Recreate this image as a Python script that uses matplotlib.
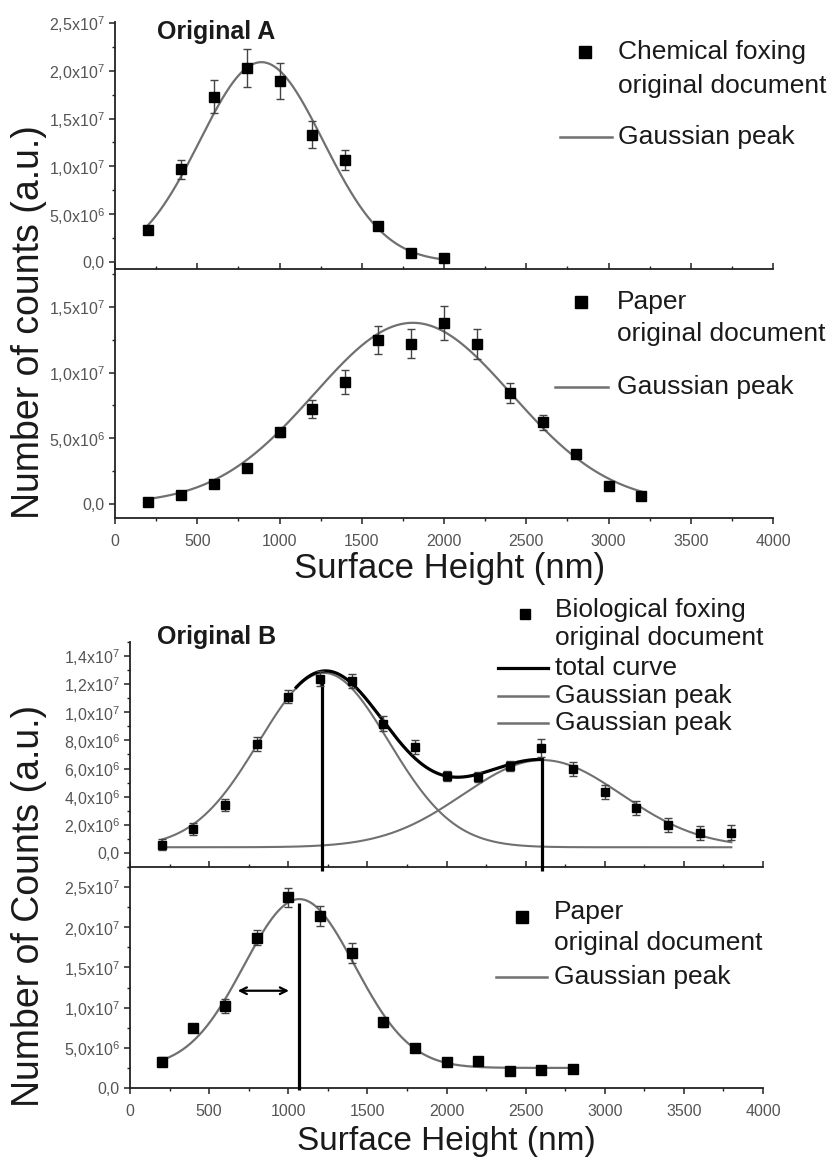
import numpy as np
import matplotlib
matplotlib.use("Agg")
import matplotlib.pyplot as plt
from matplotlib.lines import Line2D
from matplotlib.ticker import MultipleLocator, FuncFormatter

plt.rcParams['font.family'] = ['Liberation Sans', 'DejaVu Sans']

# ---- Original A, chemical foxing ----
height_a1 = [200, 400, 600, 800, 1000, 1200, 1400, 1600, 1800, 2000]
counts_a1 = [3.3e6, 9.7e6, 17.3e6, 20.3e6, 18.9e6, 13.3e6, 10.7e6, 3.8e6, 0.9e6, 0.4e6]
err_a1 = [0.3e6, 1.0e6, 1.75e6, 2.0e6, 1.9e6, 1.4e6, 1.05e6, 0.35e6, 0.15e6, 0.1e6]
fit_a1 = (890, 375, 20.9e6, 0.0)          # centre, width, amplitude, offset

# ---- Original A, paper ----
height_a2 = [200, 400, 600, 800, 1000, 1200, 1400, 1600, 1800, 2000,
             2200, 2400, 2600, 2800, 3000, 3200]
counts_a2 = [0.13e6, 0.69e6, 1.5e6, 2.72e6, 5.46e6, 7.23e6, 9.3e6, 12.5e6,
             12.2e6, 13.76e6, 12.2e6, 8.43e6, 6.22e6, 3.78e6, 1.39e6, 0.61e6]
err_a2 = [0.15e6, 0.2e6, 0.2e6, 0.25e6, 0.35e6, 0.66e6, 0.9e6, 1.08e6,
          1.1e6, 1.3e6, 1.14e6, 0.76e6, 0.57e6, 0.3e6, 0.2e6, 0.15e6]
fit_a2 = (1810, 600, 13.8e6, 0.0)

# ---- Original B, biological foxing ----
height_b1 = [200, 400, 600, 800, 1000, 1200, 1400, 1600, 1800, 2000,
             2200, 2400, 2600, 2800, 3000, 3200, 3400, 3600, 3800]
counts_b1 = [0.57e6, 1.7e6, 3.4e6, 7.75e6, 11.1e6, 12.4e6, 12.25e6, 9.2e6,
             7.55e6, 5.47e6, 5.42e6, 6.2e6, 7.44e6, 5.97e6, 4.36e6, 3.18e6,
             1.99e6, 1.4e6, 1.44e6]
err_b1 = [0.4e6, 0.4e6, 0.45e6, 0.5e6, 0.45e6, 0.5e6, 0.5e6, 0.5e6, 0.5e6,
          0.35e6, 0.35e6, 0.35e6, 0.65e6, 0.5e6, 0.5e6, 0.5e6, 0.5e6, 0.5e6, 0.55e6]
fit_b1_peak1 = (1225, 410, 12.4e6, 0.4e6)
fit_b1_peak2 = (2605, 500, 6.2e6, 0.4e6)
total_range_b1 = (1050, 2600)
vline_x_b1 = [1210, 2605]
vline_top_b1 = [12.4e6, 6.8e6]

# ---- Original B, paper ----
height_b2 = [200, 400, 600, 800, 1000, 1200, 1400, 1600, 1800, 2000,
             2200, 2400, 2600, 2800]
counts_b2 = [3.28e6, 7.42e6, 10.2e6, 18.7e6, 23.7e6, 21.4e6, 16.8e6, 8.15e6,
             4.97e6, 3.28e6, 3.35e6, 2.16e6, 2.24e6, 2.32e6]
err_b2 = [0.55e6, 0.5e6, 0.93e6, 0.93e6, 1.24e6, 1.3e6, 1.3e6, 0.5e6,
          0.45e6, 0.4e6, 0.4e6, 0.35e6, 0.35e6, 0.35e6]
fit_b2 = (1070, 350, 21.0e6, 2.5e6)
vline_x_b2 = [1068]
vline_top_b2 = [23.0e6]
arrow_b2 = (663, 1022, 12.1e6)

GREY = '#707070'
TICK_GREY = '#555555'
TEXT = '#1a1a1a'


def gauss(x, params):
    xc, w, amp, y0 = params
    return y0 + amp * np.exp(-(x - xc) ** 2 / (2 * w ** 2))


def sci_comma(v, pos):
    if abs(v) < 1:
        return '0,0'
    e = int(np.floor(np.log10(abs(v)) + 1e-9))
    m = v / 10 ** e
    return f'{m:.1f}'.replace('.', ',') + 'x10$\\mathregular{^{%d}}$' % e


def style_axes(ax, ymajor, yminor, top_panel):
    for s in ['top', 'right']:
        ax.spines[s].set_visible(False)
    for s in ['left', 'bottom']:
        ax.spines[s].set_linewidth(1.3)
        ax.spines[s].set_color('#222222')
    ax.set_facecolor('none')
    ax.set_xlim(0, 4000)
    ax.xaxis.set_major_locator(MultipleLocator(500))
    ax.xaxis.set_minor_locator(MultipleLocator(250))
    ax.yaxis.set_major_locator(MultipleLocator(ymajor))
    ax.yaxis.set_minor_locator(MultipleLocator(yminor))
    ax.yaxis.set_major_formatter(FuncFormatter(sci_comma))
    ax.tick_params(axis='y', which='major', direction='out', length=4.5,
                   width=1.1, pad=3, labelsize=11.5, labelcolor=TICK_GREY,
                   color='#222222')
    ax.tick_params(axis='y', which='minor', direction='out', length=2.5,
                   width=1.0, color='#222222')
    if top_panel:
        ax.tick_params(axis='x', which='major', direction='in', length=4.5,
                       width=1.1, labelbottom=False, color='#222222')
        ax.tick_params(axis='x', which='minor', direction='in', length=2.5,
                       width=1.0, color='#222222')
    else:
        ax.tick_params(axis='x', which='major', direction='out', length=4.5,
                       width=1.1, pad=7, labelsize=11.5, labelcolor=TICK_GREY,
                       color='#222222')
        ax.tick_params(axis='x', which='minor', direction='out', length=2.5,
                       width=1.0, color='#222222')


def plot_points(ax, x, y, err, ms=6.5):
    ax.errorbar(x, y, yerr=err, fmt='s', color='black', ms=ms,
                ecolor='#444444', elinewidth=1.0, capsize=3, capthick=1.0,
                zorder=4)


def legend_marker(ax, x, y, ms=8):
    ax.add_line(Line2D([x], [y], marker='s', color='black', ms=ms, ls='none',
                       transform=ax.transAxes, clip_on=False))


def legend_line(ax, x0, x1, y, color=GREY, lw=1.8):
    ax.add_line(Line2D([x0, x1], [y, y], color=color, lw=lw,
                       transform=ax.transAxes, clip_on=False))


def legend_text(ax, x, y, s):
    ax.text(x, y, s, transform=ax.transAxes, fontsize=19, color=TEXT,
            ha='left', va='center', clip_on=False)


fig = plt.figure(figsize=(8.33, 11.64), dpi=100)

ax_a1 = fig.add_axes([0.1381, 0.7689, 0.7899, 0.2122])
ax_a2 = fig.add_axes([0.1381, 0.5550, 0.7899, 0.2139])
ax_b1 = fig.add_axes([0.1561, 0.2552, 0.7599, 0.1933])
ax_b2 = fig.add_axes([0.1561, 0.0653, 0.7599, 0.1899])

# ---------- Original A: chemical foxing ----------
xs = np.linspace(height_a1[0], height_a1[-1], 300)
ax_a1.plot(xs, gauss(xs, fit_a1), color=GREY, lw=1.6, zorder=3)
plot_points(ax_a1, height_a1, counts_a1, err_a1)
ax_a1.set_ylim(-0.73e6, 25.1e6)
style_axes(ax_a1, 5e6, 2.5e6, True)
legend_marker(ax_a1, 0.715, 0.877)
legend_text(ax_a1, 0.764, 0.879, 'Chemical foxing')
legend_text(ax_a1, 0.764, 0.741, 'original document')
legend_line(ax_a1, 0.676, 0.755, 0.534)
legend_text(ax_a1, 0.764, 0.534, 'Gaussian peak')

# ---------- Original A: paper ----------
xs = np.linspace(height_a2[0], height_a2[-1], 300)
ax_a2.plot(xs, gauss(xs, fit_a2), color=GREY, lw=1.6, zorder=3)
plot_points(ax_a2, height_a2, counts_a2, err_a2)
ax_a2.set_ylim(-1.07e6, 17.9e6)
style_axes(ax_a2, 5e6, 2.5e6, False)
legend_marker(ax_a2, 0.708, 0.866)
legend_text(ax_a2, 0.763, 0.867, 'Paper')
legend_text(ax_a2, 0.763, 0.739, 'original document')
legend_line(ax_a2, 0.669, 0.749, 0.526)
legend_text(ax_a2, 0.763, 0.526, 'Gaussian peak')
ax_a2.set_xlabel('Surface Height (nm)', fontsize=25, color=TEXT)
ax_a2.xaxis.set_label_coords(0.508, -0.201)
ax_a2.xaxis.label.set_va('center')

fig.text(0.1885, 0.9725, 'Original A', fontsize=18, fontweight='bold',
         color=TEXT, ha='left', va='center')
fig.text(0.0348, 0.7234, 'Number of counts (a.u.)', fontsize=27, color=TEXT,
         rotation=90, ha='center', va='center')

# ---------- Original B: biological foxing ----------
xs = np.linspace(height_b1[0], height_b1[-1], 400)
ax_b1.plot(xs, gauss(xs, fit_b1_peak1), color=GREY, lw=1.5, zorder=3)
ax_b1.plot(xs, gauss(xs, fit_b1_peak2), color=GREY, lw=1.5, zorder=3)
xt = np.linspace(total_range_b1[0], total_range_b1[1], 300)
total = gauss(xt, fit_b1_peak1) + gauss(xt, fit_b1_peak2) - fit_b1_peak1[3]
ax_b1.plot(xt, total, color='black', lw=2.3, zorder=3)
ax_b1.vlines(vline_x_b1, -1.3e6, vline_top_b1, color='black', lw=2.3,
             clip_on=False, zorder=3)
plot_points(ax_b1, height_b1, counts_b1, err_b1, ms=5.8)
ax_b1.set_ylim(-1.0e6, 15.0e6)
style_axes(ax_b1, 2e6, 1e6, True)
legend_marker(ax_b1, 0.624, 1.125, ms=6.5)
legend_text(ax_b1, 0.671, 1.142, 'Biological foxing')
legend_text(ax_b1, 0.671, 1.019, 'original document')
legend_line(ax_b1, 0.581, 0.660, 0.883, color='black', lw=2.3)
legend_text(ax_b1, 0.671, 0.883, 'total curve')
legend_line(ax_b1, 0.581, 0.660, 0.760)
legend_text(ax_b1, 0.671, 0.760, 'Gaussian peak')
legend_line(ax_b1, 0.581, 0.660, 0.641)
legend_text(ax_b1, 0.671, 0.641, 'Gaussian peak')

# ---------- Original B: paper ----------
xs = np.linspace(height_b2[0], height_b2[-1], 300)
ax_b2.plot(xs, gauss(xs, fit_b2), color=GREY, lw=1.6, zorder=3)
ax_b2.vlines(vline_x_b2, -0.3e6, vline_top_b2, color='black', lw=2.3,
             clip_on=False, zorder=3)
ax_b2.annotate('', xy=(arrow_b2[1], arrow_b2[2]), xytext=(arrow_b2[0], arrow_b2[2]),
               arrowprops=dict(arrowstyle='<->', color='black', lw=1.6,
                               mutation_scale=12))
plot_points(ax_b2, height_b2, counts_b2, err_b2)
ax_b2.set_ylim(0, 27.5e6)
style_axes(ax_b2, 5e6, 2.5e6, False)
legend_marker(ax_b2, 0.619, 0.775)
legend_text(ax_b2, 0.669, 0.798, 'Paper')
legend_text(ax_b2, 0.669, 0.655, 'original document')
legend_line(ax_b2, 0.578, 0.658, 0.504)
legend_text(ax_b2, 0.669, 0.504, 'Gaussian peak')
ax_b2.set_xlabel('Surface Height (nm)', fontsize=24, color=TEXT)
ax_b2.xaxis.set_label_coords(0.499, -0.244)
ax_b2.xaxis.label.set_va('center')

fig.text(0.1885, 0.4527, 'Original B', fontsize=18, fontweight='bold',
         color=TEXT, ha='left', va='center')
fig.text(0.0348, 0.2216, 'Number of Counts (a.u.)', fontsize=27, color=TEXT,
         rotation=90, ha='center', va='center')

fig.savefig('out.png', dpi=100, facecolor='white')
